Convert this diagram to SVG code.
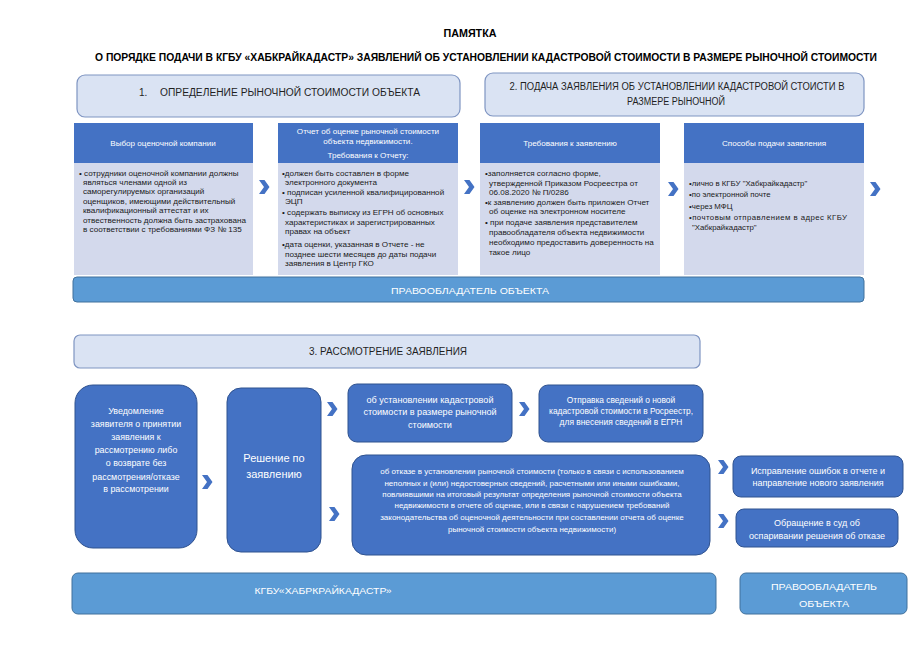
<svg xmlns="http://www.w3.org/2000/svg" width="922" height="652" viewBox="0 0 922 652">
<defs>
<style>
text{font-family:"Liberation Sans","DejaVu Sans",sans-serif;}
.ttl{font-size:10.5px;font-weight:bold;fill:#000;}
.sec{fill:#dae3f3;stroke:#7f95c2;stroke-width:1.2;}
.sect{font-size:10px;fill:#1f1f1f;}
.hdr{fill:#4472c4;}
.body{fill:#d3d9ec;}
.ht{font-size:8.1px;fill:#fff;text-anchor:middle;}
.bt{font-size:8.1px;fill:#1a1a1a;}
.ban{fill:#5b9bd5;stroke:#41719c;stroke-width:1;}
.bant{font-size:9.5px;fill:#fff;text-anchor:middle;}
.dk{fill:#4472c4;stroke:#2f528f;stroke-width:1;}
.wt{fill:#fff;text-anchor:middle;}
.chev{fill:#4472c4;}
</style>
<path id="chev" d="M-5,-7 L0.5,-7 L5.5,0 L0.5,7 L-5,7 L0,0 Z"/>
</defs>
<rect width="922" height="652" fill="#fff"/>

<g id="title">
<text class="ttl" x="470" y="37" text-anchor="middle" textLength="53" lengthAdjust="spacingAndGlyphs">ПАМЯТКА</text>
<text class="ttl" x="486" y="61" text-anchor="middle" textLength="782" lengthAdjust="spacingAndGlyphs">О ПОРЯДКЕ ПОДАЧИ В КГБУ «ХАБКРАЙКАДАСТР» ЗАЯВЛЕНИЙ ОБ УСТАНОВЛЕНИИ КАДАСТРОВОЙ СТОИМОСТИ В РАЗМЕРЕ РЫНОЧНОЙ СТОИМОСТИ</text>
</g>

<g id="section1">
<rect class="sec" x="77" y="75" width="383" height="42" rx="8"/>
<text class="sect" x="139" y="96">1.</text>
<text class="sect" x="160" y="96" textLength="260" lengthAdjust="spacingAndGlyphs">ОПРЕДЕЛЕНИЕ РЫНОЧНОЙ СТОИМОСТИ ОБЪЕКТА</text>
</g>

<g id="section2">
<rect class="sec" x="485" y="73" width="379" height="43" rx="8"/>
<text class="sect" x="677" y="90" text-anchor="middle" textLength="335" lengthAdjust="spacingAndGlyphs">2. ПОДАЧА ЗАЯВЛЕНИЯ ОБ УСТАНОВЛЕНИИ КАДАСТРОВОЙ СТОИСТИ В</text>
<text class="sect" x="676" y="105" text-anchor="middle" textLength="98" lengthAdjust="spacingAndGlyphs">РАЗМЕРЕ РЫНОЧНОЙ</text>
</g>

<g id="col1">
<rect class="hdr" x="74" y="123" width="179" height="40"/>
<rect class="body" x="74" y="163" width="179" height="112"/>
<text class="ht" x="163" y="146">Выбор оценочной компании</text>
<text class="bt" x="79" y="176">• сотрудники оценочной компании должны</text>
<text class="bt" x="83" y="185">являться членами одной из</text>
<text class="bt" x="83" y="194">саморегулируемых  организаций</text>
<text class="bt" x="83" y="204">оценщиков, имеющими действительный</text>
<text class="bt" x="83" y="213">квалификационный аттестат и их</text>
<text class="bt" x="83" y="223">отвественность должна быть застрахована</text>
<text class="bt" x="83" y="232">в соответствии с требованиями ФЗ № 135</text>
</g>

<g id="col2">
<rect class="hdr" x="278" y="123" width="180" height="40"/>
<rect class="body" x="278" y="163" width="180" height="112"/>
<text class="ht" x="368" y="134">Отчет об оценке рыночной стоимости</text>
<text class="ht" x="368" y="144">объекта недвижимости.</text>
<text class="ht" x="368" y="158">Требования к Отчету:</text>
<text class="bt" x="282" y="176">•должен быть составлен в форме</text>
<text class="bt" x="285" y="185">электронного документа</text>
<text class="bt" x="282" y="195">• подписан усиленной квалифицированной</text>
<text class="bt" x="285" y="204">ЭЦП</text>
<text class="bt" x="282" y="215">• содержать выписку из ЕГРН об основных</text>
<text class="bt" x="285" y="225">характеристиках  и зарегистрированных</text>
<text class="bt" x="285" y="234">правах на объект</text>
<text class="bt" x="282" y="247">•дата оценки, указанная в Отчете - не</text>
<text class="bt" x="285" y="257">позднее шести месяцев до даты подачи</text>
<text class="bt" x="285" y="266">заявления в Центр ГКО</text>
</g>

<g id="col3">
<rect class="hdr" x="480" y="123" width="180" height="40"/>
<rect class="body" x="480" y="163" width="180" height="112"/>
<text class="ht" x="570" y="146">Требования к заявлению</text>
<text class="bt" x="485" y="176">•заполняется согласно форме,</text>
<text class="bt" x="489" y="186">утвержденной Приказом Росреестра  от</text>
<text class="bt" x="489" y="195">06.08.2020 № П/0286</text>
<text class="bt" x="485" y="205">•к заявлению должен быть приложен Отчет</text>
<text class="bt" x="489" y="214">об оценке на электронном носителе</text>
<text class="bt" x="485" y="225">• при подаче заявления представителем</text>
<text class="bt" x="489" y="235">правообладателя объекта недвижимости</text>
<text class="bt" x="489" y="245">необходимо предоставить доверенность на</text>
<text class="bt" x="489" y="255">такое лицо</text>
</g>

<g id="col4">
<rect class="hdr" x="684" y="123" width="180" height="40"/>
<rect class="body" x="684" y="163" width="180" height="112"/>
<text class="ht" x="774" y="146">Способы подачи заявления</text>
<text class="bt" x="689" y="186" style="font-size:7.8px">•лично в КГБУ "Хабкрайкадастр"</text>
<text class="bt" x="689" y="197" style="font-size:7.8px">•по электронной почте</text>
<text class="bt" x="689" y="209" style="font-size:7.8px">•через МФЦ</text>
<text class="bt" x="689" y="220" style="font-size:7.8px" textLength="158">•почтовым  отправлением  в  адрес  КГБУ</text>
<text class="bt" x="692" y="230" style="font-size:7.8px">"Хабкрайкадастр"</text>
</g>

<g id="banner-owner">
<rect class="ban" x="73" y="277" width="791" height="25" rx="4"/>
<text class="bant" x="470" y="294" textLength="158" lengthAdjust="spacingAndGlyphs">ПРАВООБЛАДАТЕЛЬ  ОБЪЕКТА</text>
</g>

<g id="section3">
<rect class="sec" x="74" y="335" width="626" height="33" rx="6"/>
<text class="sect" x="309" y="355" textLength="158" lengthAdjust="spacingAndGlyphs">3. РАССМОТРЕНИЕ ЗАЯВЛЕНИЯ</text>
</g>

<g id="notify">
<rect class="dk" x="75" y="385" width="122" height="163" rx="18"/>
<text class="wt" style="font-size:8.9px" x="136" y="414">Уведомление</text>
<text class="wt" style="font-size:8.9px" x="136" y="427">заявителя о принятии</text>
<text class="wt" style="font-size:8.9px" x="136" y="440">заявления к</text>
<text class="wt" style="font-size:8.9px" x="136" y="453">рассмотрению либо</text>
<text class="wt" style="font-size:8.9px" x="136" y="466">о возврате без</text>
<text class="wt" style="font-size:8.9px" x="136" y="480">рассмотрения/отказе</text>
<text class="wt" style="font-size:8.9px" x="136" y="492">в рассмотрении</text>
</g>

<g id="decision">
<rect class="dk" x="227" y="388" width="94" height="164" rx="14"/>
<text class="wt" style="font-size:11px" x="274" y="462">Решение по</text>
<text class="wt" style="font-size:11px" x="274" y="478">заявлению</text>
</g>

<g id="approve">
<rect class="dk" x="348" y="384" width="164" height="58" rx="9"/>
<text class="wt" style="font-size:9.1px" x="430" y="403">об установлении кадастровой</text>
<text class="wt" style="font-size:9.1px" x="430" y="415">стоимости в размере рыночной</text>
<text class="wt" style="font-size:9.1px" x="430" y="428">стоимости</text>
</g>

<g id="send">
<rect class="dk" x="539" y="385" width="164" height="57" rx="9"/>
<text class="wt" style="font-size:8.4px" x="621" y="403">Отправка сведений о новой</text>
<text class="wt" style="font-size:8.4px" x="621" y="414">кадастровой стоимости в Росреестр,</text>
<text class="wt" style="font-size:8.4px" x="621" y="425">для внесения сведений в ЕГРН</text>
</g>

<g id="refuse">
<rect class="dk" x="352" y="455" width="358" height="100" rx="14"/>
<text class="wt" style="font-size:8px" x="532" y="474">об отказе в установлении рыночной стоимости (только в связи с использованием</text>
<text class="wt" style="font-size:8px" x="532" y="486">неполных и (или) недостоверных сведений, расчетными или иными ошибками,</text>
<text class="wt" style="font-size:8px" x="532" y="497">повлиявшими на итоговый результат определения рыночной стоимости объекта</text>
<text class="wt" style="font-size:8px" x="532" y="508">недвижимости в отчете об оценке, или в связи с нарушением требований</text>
<text class="wt" style="font-size:8px" x="532" y="520">законодательства об оценочной деятельности при составлении отчета об оценке</text>
<text class="wt" style="font-size:8px" x="532" y="532">рыночной стоимости объекта недвижимости)</text>
</g>

<g id="fix">
<rect class="dk" x="733" y="456" width="170" height="41" rx="8"/>
<text class="wt" style="font-size:9px" x="818" y="474">Исправление ошибок в отчете и</text>
<text class="wt" style="font-size:9px" x="818" y="486">направление нового заявления</text>
</g>

<g id="court">
<rect class="dk" x="736" y="509" width="162" height="38" rx="8"/>
<text class="wt" style="font-size:9px" x="817" y="526">Обращение в суд об</text>
<text class="wt" style="font-size:9px" x="817" y="539">оспаривании решения об отказе</text>
</g>

<g id="banner-kgbu">
<rect class="ban" x="72" y="573" width="644" height="41" rx="6"/>
<text class="bant" x="323" y="594" textLength="137" lengthAdjust="spacingAndGlyphs">КГБУ«ХАБРКРАЙКАДАСТР»</text>
</g>

<g id="banner-owner2">
<rect class="ban" x="740" y="573" width="167" height="41" rx="6"/>
<text class="bant" x="824" y="590" textLength="106" lengthAdjust="spacingAndGlyphs">ПРАВООБЛАДАТЕЛЬ</text>
<text class="bant" x="824" y="607" textLength="50" lengthAdjust="spacingAndGlyphs">ОБЪЕКТА</text>
</g>

<g id="connectors" class="chev">
<use href="#chev" x="264" y="187"/>
<use href="#chev" x="469" y="187"/>
<use href="#chev" x="673" y="189"/>
<use href="#chev" x="875" y="189"/>
<use href="#chev" x="207" y="482"/>
<use href="#chev" x="332" y="409"/>
<use href="#chev" x="334" y="514"/>
<use href="#chev" x="524" y="409"/>
<use href="#chev" x="723" y="467"/>
<use href="#chev" x="723" y="521"/>
</g>
</svg>
